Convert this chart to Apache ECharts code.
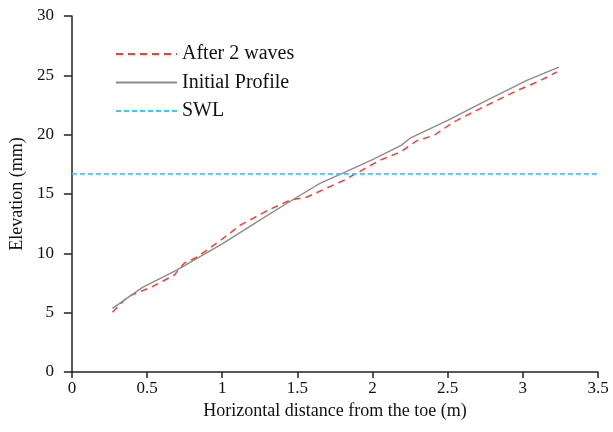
<!DOCTYPE html>
<html>
<head>
<meta charset="utf-8">
<script src="https://cdn.jsdelivr.net/npm/echarts@6/dist/echarts.min.js"></script>
<style>html,body{margin:0;padding:0;background:#fff}#c{width:613px;height:432px}</style>
</head>
<body>
<div id="c"></div>
<script>
var xTicks = [0, 0.5, 1, 1.5, 2, 2.5, 3, 3.5];
var yTicks = [0, 5, 10, 15, 20, 25, 30];
var afterX = [0.27,0.37,0.525,0.68,0.746,0.835,0.99,1.12,1.30,1.455,1.565,1.81,2.05,2.185,2.296,2.41,2.54,2.67,2.805,2.96,3.115,3.226];
var afterY = [5.03,6.34,7.13,8.16,9.15,9.7,11.1,12.37,13.6,14.5,14.75,16.16,17.85,18.54,19.5,19.95,21.07,21.9,22.75,23.7,24.55,25.28];
var initX = [0.27,0.47,0.70,1.0,1.25,1.48,1.65,1.81,2.0,2.19,2.25,2.5,2.73,3.03,3.24];
var initY = [5.36,7.13,8.6,10.8,12.8,14.6,15.9,16.8,17.9,19.1,19.7,21.2,22.7,24.6,25.7];
var swlX = [0, 3.53];
var swlY = [16.7, 16.7];
function zip(a,b){return a.map(function(v,i){return [v,b[i]];});}
var font = 'Liberation Serif';
var chart = echarts.init(document.getElementById('c'));
chart.setOption({
  animation:false,
  textStyle:{fontFamily:font},
  grid:{left:71,right:15,top:16,bottom:60},
  legend:{
    orient:'vertical', left:115, top:44, padding:0, itemWidth:61, itemHeight:18, itemGap:8.5, itemTextGap:8,
    itemStyle:{opacity:0},
    textStyle:{fontFamily:font,fontSize:20,color:'#111'},
    data:['After 2 waves','Initial Profile','SWL']
  },
  xAxis:{
    type:'value', min:0, max:3.5, interval:0.5,
    name:'Horizontal distance from the toe (m)', nameLocation:'middle', nameGap:29,
    nameTextStyle:{fontFamily:font,fontSize:18,color:'#111'},
    axisLine:{lineStyle:{color:'#222',width:1.5}},
    axisTick:{show:true,length:6,lineStyle:{color:'#222',width:1.5}},
    axisLabel:{fontFamily:font,fontSize:17,color:'#111',margin:8},
    splitLine:{show:false}
  },
  yAxis:{
    type:'value', min:0, max:30, interval:5,
    name:'Elevation (mm)', nameLocation:'middle', nameGap:41,
    nameTextStyle:{fontFamily:font,fontSize:18,color:'#111'},
    axisLine:{show:true,lineStyle:{color:'#222',width:1.5}},
    axisTick:{show:true,length:8,lineStyle:{color:'#222',width:1.5}},
    axisLabel:{fontFamily:font,fontSize:17,color:'#111',margin:18},
    splitLine:{show:false}
  },
  series:[
    {name:'After 2 waves', type:'line', data:zip(afterX,afterY), showSymbol:false, symbol:'none',
     lineStyle:{color:'#ee4035',width:1.5,type:[7,5]}, itemStyle:{color:'#ee4035'}},
    {name:'Initial Profile', type:'line', data:zip(initX,initY), showSymbol:false, symbol:'none',
     lineStyle:{color:'#8c8c8c',width:1.4}, itemStyle:{color:'#8c8c8c'}},
    {name:'SWL', type:'line', data:zip(swlX,swlY), showSymbol:false, symbol:'none', clip:false,
     lineStyle:{color:'#3cc8f0',width:1.7,type:[5,3]}, itemStyle:{color:'#3cc8f0'}}
  ]
});
</script>
</body>
</html>
